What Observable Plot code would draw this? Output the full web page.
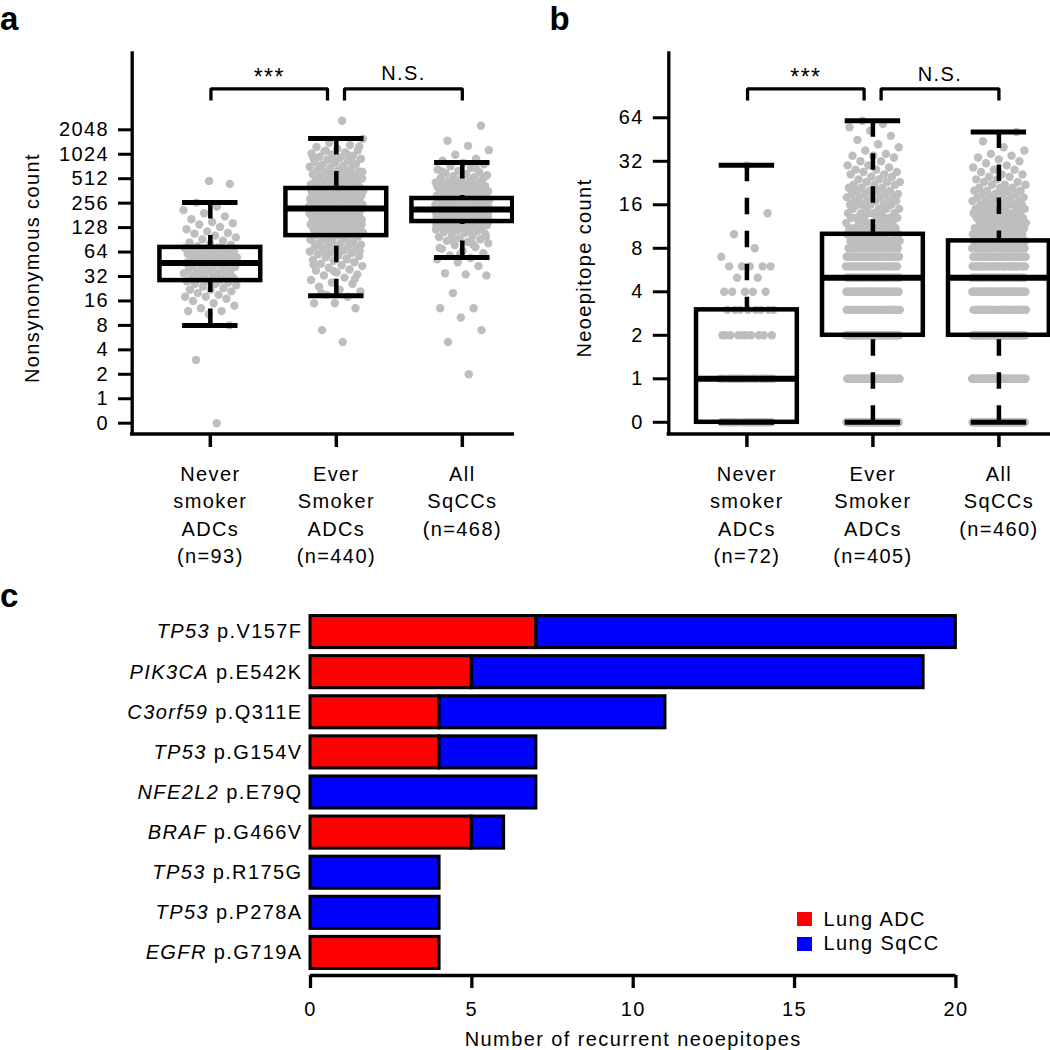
<!DOCTYPE html>
<html>
<head>
<meta charset="utf-8">
<script src="https://cdn.jsdelivr.net/npm/d3@7"></script>
<script src="https://cdn.jsdelivr.net/npm/@observablehq/plot@0.6"></script>
<style>
  html, body { margin: 0; padding: 0; background: #fff; }
  #wrap { position: relative; width: 1050px; height: 1050px; overflow: hidden; background: #fff;
          font-family: "Liberation Sans", Arial, Helvetica, sans-serif; }
  #wrap svg text { letter-spacing: 1.4px; }
  #wrap svg text.plabel { letter-spacing: 0; }
  .panel { position: absolute; overflow: hidden; }
  #pa { left: 0; top: 0; width: 514px; height: 580px; }
  #pb { left: 530px; top: 0; width: 520px; height: 580px; }
  #pc { left: 0; top: 580px; width: 1050px; height: 470px; }
  #ov { position: absolute; left: 0; top: 0; pointer-events: none; }
</style>
</head>
<body>
<div id="wrap">
  <div id="pa" class="panel"></div>
  <div id="pb" class="panel"></div>
  <div id="pc" class="panel"></div>
  <svg id="ov" width="1050" height="1050" xmlns="http://www.w3.org/2000/svg">
    <g font-family="Liberation Sans, Arial, sans-serif" font-weight="bold" font-size="33" fill="#000">
      <text class="plabel" x="0" y="30">a</text>
      <text class="plabel" x="549.5" y="30">b</text>
      <text class="plabel" x="0" y="607">c</text>
    </g>
    <g id="legend" font-family="Liberation Sans, Arial, sans-serif" font-size="20" fill="#000"></g>
  </svg>
</div>
<script>
// ---------------- DATA ----------------
const groupNames = ["Never\nsmoker\nADCs", "Ever\nSmoker\nADCs", "All\nSqCCs"];

// Panel a: nonsynonymous counts
const nA = [93, 440, 468];
const aLow  = [8, 18.6, 55];
const aQ1   = [28.5, 102, 152];
const aMed  = [47, 220, 214];
const aQ3   = [73, 388, 292];
const aHigh = [260, 1600, 810];
const aTicks = [0, 1, 2, 4, 8, 16, 32, 64, 128, 256, 512, 1024, 2048];

const neverA = [0, 3, 8, 11, 12, 12, 13, 14, 15, 16, 17, 18, 18, 19, 20, 21, 22, 22, 23, 24, 25, 26, 26, 27, 28, 28,
  29, 30, 31, 31, 32, 33, 34, 35, 35, 36, 37, 38, 39, 40, 41, 42, 43, 44, 45, 46, 47,
  48, 49, 50, 51, 52, 53, 54, 55, 56, 57, 59, 60, 61, 63, 64, 65, 66, 67, 69, 70, 72, 73,
  75, 78, 81, 84, 88, 92, 97, 102, 108, 110, 115, 122, 130, 140, 145, 150, 162, 176, 192, 210, 232, 260, 442, 481];

const everA = [5, 7, 13, 15, 15, 18, 19, 21, 22, 24, 26, 27, 29, 31, 33, 34, 36, 38, 39, 41, 43, 44, 46, 48, 50,
  51, 53, 55, 57, 58, 60, 62, 63, 65, 67, 68, 70, 72, 74, 75, 77, 79, 81, 83, 85, 88, 90, 93, 96, 99,
  102, 104, 107, 109, 111, 113, 116, 118, 120, 122, 125, 127, 129, 131, 134, 136, 138, 141, 143, 145,
  148, 150, 152, 155, 157, 160, 162, 164, 167, 169, 172, 174, 177, 179, 182, 184, 187, 189, 192, 194,
  197, 199, 202, 204, 207, 209, 211, 213, 215, 217,
  220, 223, 226, 229, 232, 235, 238, 241, 244, 247, 250, 253, 256, 259, 262, 266, 269, 272, 275, 279,
  282, 285, 289, 292, 296, 299, 303, 306, 310, 313, 317, 320, 324, 328, 331, 335, 339, 343, 346, 350,
  354, 358, 362, 365, 369, 372, 375, 378, 380, 382,
  388, 395, 402, 410, 418, 426, 434, 443, 452, 462, 472, 482, 493, 504, 516, 528, 541, 554, 568, 582,
  597, 612, 628, 645, 662, 680, 699, 718, 738, 759, 781, 803, 826, 850, 875, 901, 928, 956, 985, 1015,
  1046, 1078, 1112, 1147, 1200, 1260, 1330, 1420, 1585, 2650,
  20, 30, 37, 45, 52, 59, 66, 71, 78, 84, 87, 91, 94, 97,
  105, 112, 119, 124, 133, 140, 147, 153, 159, 166, 171, 178, 186, 193, 201, 210,
  221, 228, 237, 246, 255, 264, 274, 284, 294, 305, 315, 327, 338, 352, 367, 377,
  392, 415, 440, 468, 498, 535, 575, 620, 670, 725, 790, 860, 940, 1030, 1130, 1280];

const sqccA = [2, 5, 7, 10, 13, 13, 20, 33, 34, 35, 43, 48, 52, 54, 58, 62, 66, 70, 74, 78,
  82, 85, 88, 92, 95, 98, 101, 104, 107, 110, 113, 116, 118, 121, 123, 126, 128, 130, 132, 134,
  136, 138, 140, 141, 143, 144, 146, 147, 148, 149,
  151, 152, 153, 155, 156, 157, 158, 160, 161, 162, 164, 165, 166, 168, 169, 170, 172, 173, 174, 176,
  177, 178, 180, 181, 182, 184, 185, 186, 188, 189, 190, 192, 193, 194, 196, 197, 198, 200, 201, 202,
  203, 204, 205, 206, 207, 208, 209, 210, 210, 211,
  213, 214, 216, 217, 219, 220, 222, 223, 225, 226, 228, 229, 231, 232, 234, 235, 237, 238, 240, 241,
  243, 244, 246, 247, 249, 250, 252, 253, 255, 256, 258, 259, 261, 262, 264, 265, 267, 268, 270, 271,
  273, 274, 276, 277, 279, 280, 282, 283, 285, 287,
  291, 295, 299, 303, 307, 311, 316, 320, 325, 330, 335, 340, 346, 352, 358, 364, 370, 377, 384, 391,
  398, 406, 414, 422, 431, 440, 450, 460, 471, 482, 494, 506, 519, 533, 548, 564, 581, 599, 618, 640,
  665, 695, 730, 770, 803, 850, 900, 1010, 1150, 1300, 1500, 2300,
  60, 72, 80, 90, 100, 111, 119, 127, 133, 139, 145,
  154, 159, 163, 167, 171, 175, 179, 183, 187, 191, 195, 199, 202, 206,
  215, 221, 227, 233, 239, 245, 251, 257, 263, 269, 275, 281, 286,
  300, 318, 338, 360, 385, 412, 445, 480, 525, 575, 630, 700];

// Panel b: neoepitope counts (value / number of samples)
const nB = [72, 405, 460];
const bLow  = [0, 0, 0];
const bQ1   = [0, 2, 2];
const bMed  = [1, 5, 5];
const bQ3   = [3, 10, 9];
const bHigh = [30, 61, 51];
const bTicks = [0, 1, 2, 4, 8, 16, 32, 64];

const bNeverVals = [0, 1, 2, 3, 4, 5, 6, 7, 8, 10, 14, 30];
const bNeverCnt  = [19, 18, 10, 8, 5, 2, 5, 1, 1, 1, 1, 1];
const bEverVals = [0, 1, 2, 3, 4, 5, 6, 7, 8, 9, 10, 11, 12, 13, 14, 15, 16, 17, 18, 19, 20, 21, 22, 23, 24, 25,
  26, 27, 28, 29, 30, 32, 34, 35, 36, 38, 40, 42, 45, 48, 52, 55, 58, 61];
const bEverCnt  = [45, 35, 40, 35, 35, 30, 25, 22, 18, 14, 12, 8, 7, 7, 6, 5, 6, 5, 5, 4, 4, 3, 3, 3, 2, 2,
  2, 2, 2, 1, 2, 2, 1, 2, 1, 1, 1, 1, 1, 1, 1, 1, 1, 1];
const bSqccVals = [0, 1, 2, 3, 4, 5, 6, 7, 8, 9, 10, 11, 12, 13, 14, 15, 16, 17, 18, 19, 20, 21, 22, 23, 24, 25,
  26, 27, 28, 29, 30, 31, 32, 33, 34, 35, 36, 38, 40, 44, 51];
const bSqccCnt  = [48, 43, 45, 39, 40, 35, 30, 25, 20, 20, 14, 11, 9, 9, 8, 7, 6, 5, 5, 4, 4, 3, 3, 2, 2, 2,
  2, 1, 2, 1, 1, 1, 1, 1, 1, 1, 1, 1, 1, 1, 1];

// Panel c: recurrent neoepitopes
const mutGenes   = ["TP53", "PIK3CA", "C3orf59", "TP53", "NFE2L2", "BRAF", "TP53", "TP53", "EGFR"];
const mutChanges = ["p.V157F", "p.E542K", "p.Q311E", "p.G154V", "p.E79Q", "p.G466V", "p.R175G", "p.P278A", "p.G719A"];
const adcCounts  = [7, 5, 4, 4, 0, 5, 0, 0, 4];
const sqccCounts = [13, 14, 7, 3, 7, 1, 4, 4, 0];
const cohorts = ["Lung ADC", "Lung SqCC"];
const cohortColors = ["#ff0000", "#0000ff"];

// ---------------- HELPERS ----------------
const lv = v => (v > 0 ? Math.log2(v) : -1);          // 0 drawn one step below 1
const jit = i => ((((i + 1) * 0.6180339887) % 1) - 0.5) * 0.43; // deterministic strip jitter
const expand = (vals, cnts) => vals.flatMap((v, i) => Array(cnts[i]).fill(v));

const plotStyle = {
  background: "transparent",
  fontFamily: "'Liberation Sans', Arial, Helvetica, sans-serif",
  fontSize: "20px",
  color: "black"
};

function boxPanel(c) {
  const stats = [1, 2, 3].map((g, i) => ({
    g, lo: lv(c.low[i]), q1: lv(c.q1[i]), med: lv(c.med[i]), q3: lv(c.q3[i]), hi: lv(c.high[i]),
    label: groupNames[i] + "\n(n=" + c.n[i] + ")"
  }));
  const pts = c.points.flatMap((arr, gi) => arr.map((v, i) => ({x: gi + 1 + jit(i), y: lv(v)})));
  const tLv = c.ticks.map(lv);
  const tLab = new Map(tLv.map((l, i) => [l, String(c.ticks[i])]));
  const bw = 0.4, cw = 0.22;
  const br = c.brackets.flatMap((b, k) =>
    [[b.x1, c.brLeg], [b.x1, c.brTop], [b.x2, c.brTop], [b.x2, c.brLeg]].map(([x, y]) => ({k, x, y})));
  const xLo = 0.38, xHi = 3.62, pxU = 126;
  const black = "black";
  return Plot.plot({
    width: c.width, height: 580,
    marginLeft: c.ml, marginRight: 0, marginTop: 53, marginBottom: 146.5,
    x: {domain: [xLo, xHi], range: [c.ml, c.ml + (xHi - xLo) * pxU]},
    y: {domain: c.yDomain},
    style: plotStyle,
    marks: [
      Plot.dot(pts, {x: "x", y: "y", r: 4.2, fill: "#bebebe"}),
      Plot.ruleX(stats, {x: "g", y1: "hi", y2: "q3", stroke: black, strokeWidth: 4.5, strokeDasharray: "16.5,16.5"}),
      Plot.ruleX(stats, {x: "g", y1: "lo", y2: "q1", stroke: black, strokeWidth: 4.5, strokeDasharray: "16.5,16.5"}),
      Plot.ruleY(stats, {y: "hi", x1: d => d.g - cw, x2: d => d.g + cw, stroke: black, strokeWidth: 5}),
      Plot.ruleY(stats, {y: "lo", x1: d => d.g - cw, x2: d => d.g + cw, stroke: black, strokeWidth: 5}),
      Plot.rect(stats, {x1: d => d.g - bw, x2: d => d.g + bw, y1: "q1", y2: "q3", fill: "none", stroke: black, strokeWidth: 4.5}),
      Plot.ruleY(stats, {y: "med", x1: d => d.g - bw, x2: d => d.g + bw, stroke: black, strokeWidth: 6}),
      Plot.ruleX([xLo], {stroke: black, strokeWidth: 3.3, strokeLinecap: "square"}),
      Plot.ruleY([c.yDomain[0]], {stroke: black, strokeWidth: 3.3, strokeLinecap: "square"}),
      Plot.axisY(tLv, {tickSize: c.tickSize, tickPadding: 9.5, strokeWidth: 3, fontSize: 20,
                       tickFormat: d => tLab.get(d), label: null}),
      Plot.axisX([1, 2, 3], {tickSize: 13.5, strokeWidth: 3.5, tickFormat: () => "", label: null}),
      Plot.text(stats, {x: "g", text: "label", frameAnchor: "bottom", dy: 27.8, textAnchor: "middle",
                        lineAnchor: "top", lineHeight: 1.36, fontSize: 20}),
      Plot.line(br, {x: "x", y: "y", z: "k", stroke: black, strokeWidth: 3.3,
                     strokeLinejoin: "miter", strokeLinecap: "butt"}),
      Plot.text(c.brackets, {x: d => (d.x1 + d.x2) / 2, y: "ty", text: "label", textAnchor: "middle",
                             lineAnchor: "bottom", fontSize: d => d.fs}),
      Plot.text([c.yLabel], {frameAnchor: "left", rotate: -90, textAnchor: "middle", lineAnchor: "middle",
                             dx: c.labelDx, dy: 24.25, fontSize: 20})
    ]
  });
}

// ---------------- PANEL a ----------------
document.getElementById("pa").append(boxPanel({
  width: 514, ml: 131.7, tickSize: 13.7,
  yDomain: [-1.442, 14.121],
  points: [neverA, everA, sqccA],
  low: aLow, q1: aQ1, med: aMed, q3: aQ3, high: aHigh, n: nA,
  ticks: aTicks,
  yLabel: "Nonsynonymous count", labelDx: -100.1,
  brTop: 12.677, brLeg: 12.199,
  brackets: [
    {x1: 1.005, x2: 1.93, label: "***", ty: 12.82, fs: 23},
    {x1: 2.065, x2: 3.0, label: "N.S.", ty: 13.017, fs: 20}
  ]
}));

// ---------------- PANEL b ----------------
document.getElementById("pb").append(boxPanel({
  width: 520, ml: 138.3, tickSize: 15.5,
  yDomain: [-1.269, 7.478],
  points: [expand(bNeverVals, bNeverCnt), expand(bEverVals, bEverCnt), expand(bSqccVals, bSqccCnt)],
  low: bLow, q1: bQ1, med: bMed, q3: bQ3, high: bHigh, n: nB,
  ticks: bTicks,
  yLabel: "Neoepitope count", labelDx: -84.7,
  brTop: 6.667, brLeg: 6.398,
  brackets: [
    {x1: 1.005, x2: 1.93, label: "***", ty: 6.747, fs: 23},
    {x1: 2.065, x2: 3.0, label: "N.S.", ty: 6.857, fs: 20}
  ]
}));

// ---------------- PANEL c ----------------
const mutLabels = mutGenes.map((g, i) => g + " " + mutChanges[i]);
const recurrent = cohorts.flatMap((co, ci) => mutLabels.map((m, i) => ({
  mut: m, cohort: co, count: (ci === 0 ? adcCounts : sqccCounts)[i]
}))).filter(d => d.count > 0);

const plotC = Plot.plot({
  width: 1050, height: 470,
  marginLeft: 310, marginRight: 94.6, marginTop: 29, marginBottom: 75,
  x: {domain: [0, 20]},
  y: {domain: mutLabels, padding: 0.125, round: false},
  color: {domain: cohorts, range: cohortColors},
  style: plotStyle,
  marks: [
    Plot.barX(recurrent, {x: "count", y: "mut", fill: "cohort", stroke: "black", strokeWidth: 3,
                          insetTop: 1.5, insetBottom: 1.5}),
    Plot.ruleY([mutLabels[mutLabels.length - 1]], {x1: 0, x2: 20, dy: 22.56, stroke: "black", strokeWidth: 3.3}),
    Plot.axisX([0, 5, 10, 15, 20], {tickSize: 13, tickPadding: 13, strokeWidth: 3.3, fontSize: 20, label: null}),
    Plot.axisY({tickSize: 0, tickPadding: 8, fontSize: 20, label: null}),
    Plot.text(["Number of recurrent neoepitopes"], {frameAnchor: "bottom", textAnchor: "middle",
                                                    lineAnchor: "middle", dy: 63.6, fontSize: 20})
  ]
});
document.getElementById("pc").append(plotC);

// italic gene symbol in the bar labels
{
  const ns = "http://www.w3.org/2000/svg";
  const labelSet = new Set(mutLabels);
  plotC.querySelectorAll("text").forEach(t => {
    const s = t.textContent;
    if (!labelSet.has(s) || t.querySelector("tspan")) return;
    const k = s.indexOf(" ");
    t.textContent = "";
    const a = document.createElementNS(ns, "tspan");
    a.setAttribute("font-style", "italic");
    a.textContent = s.slice(0, k);
    const b = document.createElementNS(ns, "tspan");
    b.textContent = s.slice(k);
    t.append(a, b);
  });
}

// legend (panel c)
{
  const ns = "http://www.w3.org/2000/svg";
  const g = document.getElementById("legend");
  cohorts.forEach((co, i) => {
    const r = document.createElementNS(ns, "rect");
    r.setAttribute("x", 797); r.setAttribute("y", 912 + i * 25);
    r.setAttribute("width", 15); r.setAttribute("height", 14);
    r.setAttribute("fill", cohortColors[i]);
    const t = document.createElementNS(ns, "text");
    t.setAttribute("x", 823.5); t.setAttribute("y", 925.7 + i * 24.6);
    t.textContent = co;
    g.append(r, t);
  });
}
</script>
</body>
</html>
